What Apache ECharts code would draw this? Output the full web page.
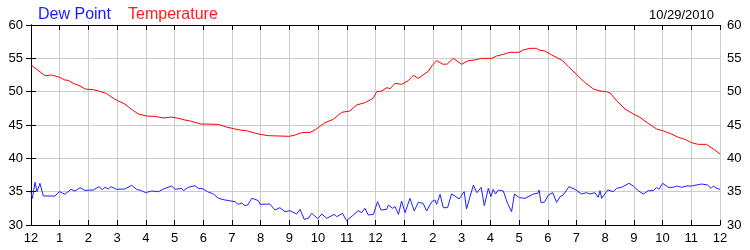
<!DOCTYPE html>
<html>
<head>
<meta charset="utf-8">
<script src="https://cdn.jsdelivr.net/npm/echarts@6/dist/echarts.min.js"></script>
<style>html,body{margin:0;padding:0;background:#fff}#c{width:750px;height:250px}</style>
</head>
<body>
<div id="c"></div>
<script>
// Hours since midnight (0..24) and values
var tempHours = [0.00,0.49,0.72,1.00,1.18,1.29,1.47,1.71,1.88,2.17,2.40,2.64,2.87,3.04,3.27,3.50,3.74,4.03,4.32,4.60,4.90,5.19,5.36,5.60,5.90,6.52,6.76,7.00,7.28,7.51,7.74,7.97,8.27,9.00,9.20,9.43,9.72,9.89,10.24,10.53,10.82,11.11,11.34,11.63,11.92,12.04,12.22,12.39,12.51,12.68,12.91,13.14,13.32,13.49,13.84,13.96,14.13,14.36,14.50,14.71,15.00,15.23,15.46,15.70,16.05,16.22,16.45,16.68,17.00,17.14,17.38,17.61,17.73,17.90,18.14,18.31,18.51,18.72,19.01,19.30,19.59,19.82,20.05,20.17,20.40,20.69,20.98,21.21,21.50,21.79,22.00,22.26,22.55,22.78,23.01,23.24,23.53,23.82,24.00];
var tempValues = [54.0,52.4,52.5,52.15,51.75,51.7,51.25,50.85,50.4,50.3,50.05,49.7,49.0,48.6,48.15,47.35,46.65,46.35,46.3,46.05,46.2,45.95,45.75,45.55,45.15,45.1,44.75,44.5,44.25,44.15,43.85,43.6,43.4,43.3,43.5,43.85,43.9,44.25,45.35,45.85,46.9,47.1,48.0,48.35,49.0,50.0,50.1,50.6,50.45,51.25,51.1,51.65,52.45,52.0,53.05,53.85,54.65,54.1,54.15,55.0,54.1,54.65,54.75,55.0,55.0,55.35,55.6,55.9,55.9,56.25,56.5,56.5,56.2,56.1,55.5,55.15,54.65,53.75,52.55,51.35,50.4,50.1,50.0,49.8,48.65,47.4,46.65,46.15,45.25,44.4,44.15,43.75,43.15,42.85,42.35,42.1,42.1,41.25,40.65];

var dewHours = [0.00,0.05,0.14,0.21,0.31,0.43,0.84,0.99,1.18,1.39,1.53,1.71,1.88,2.17,2.37,2.48,2.58,2.69,2.79,2.98,3.27,3.51,3.68,3.85,3.99,4.20,4.44,4.61,4.90,5.02,5.25,5.31,5.48,5.71,5.83,5.98,6.15,6.35,6.53,6.76,7.11,7.22,7.34,7.45,7.55,7.69,7.80,7.92,7.98,8.03,8.32,8.50,8.67,8.85,9.02,9.25,9.37,9.52,9.66,9.78,9.99,10.13,10.30,10.57,10.65,10.85,10.99,11.23,11.40,11.52,11.63,11.75,11.93,12.07,12.19,12.39,12.45,12.59,12.68,12.80,12.91,13.03,13.20,13.35,13.49,13.66,13.78,13.96,14.07,14.13,14.25,14.36,14.51,14.65,14.77,14.91,15.09,15.17,15.41,15.53,15.68,15.79,15.93,16.02,16.10,16.18,16.28,16.45,16.60,16.74,16.84,17.01,17.21,17.50,17.65,17.70,17.76,17.88,18.02,18.17,18.31,18.43,18.54,18.74,18.95,19.18,19.35,19.47,19.64,19.76,19.82,19.88,20.09,20.28,20.40,20.57,20.83,20.98,21.15,21.33,21.50,21.68,21.79,21.87,22.00,22.20,22.37,22.49,22.66,22.82,23.01,23.36,23.57,23.69,23.77,23.89,24.00];
var dewValues = [34.9,34.0,36.4,35.0,36.25,34.35,34.35,35.0,34.6,35.35,35.1,35.6,35.2,35.25,35.75,35.3,35.65,35.4,35.75,35.35,35.4,35.95,35.35,35.15,34.85,35.1,35.0,35.4,35.85,35.35,35.5,35.15,35.65,35.9,35.5,35.45,35.0,34.65,34.0,33.75,33.5,33.1,33.3,32.9,33.0,34.0,33.85,33.65,33.1,33.25,33.15,32.25,32.6,32.0,32.15,31.65,32.35,30.85,31.0,31.75,30.95,31.65,31.0,31.6,31.25,31.75,30.65,31.5,32.15,31.85,32.5,31.5,31.6,33.5,32.25,32.35,33.0,32.5,32.75,31.6,33.6,31.85,34.0,32.1,33.4,33.25,32.1,33.5,33.75,33.1,34.6,32.6,32.6,34.65,34.35,33.9,35.0,32.4,36.0,34.85,35.65,32.9,35.5,34.25,35.35,34.65,35.25,35.1,33.25,32.0,34.65,34.1,34.0,34.65,34.75,35.25,33.4,33.4,34.5,34.85,33.4,34.25,34.5,35.75,35.35,34.65,34.85,34.65,34.85,34.15,35.15,34.0,35.25,35.0,35.5,35.65,36.25,35.85,35.15,34.65,35.15,35.15,35.65,35.35,36.25,35.65,35.65,35.85,35.65,35.85,35.85,36.15,36.0,35.5,35.85,35.5,35.35];

var hourLabels = ['12','1','2','3','4','5','6','7','8','9','10','11','12','1','2','3','4','5','6','7','8','9','10','11','12'];
var yTicks = [30,35,40,45,50,55,60];
var titles = ['Dew Point','Temperature'];
var dateLabel = '10/29/2010';

function zip(a,b){var r=[];for(var i=0;i<a.length;i++)r.push([a[i],b[i]]);return r;}

var FONT = '"Liberation Sans", Arial, sans-serif';
var chart = echarts.init(document.getElementById('c'), null, {renderer:'canvas'});
var axisLine = {show:true, lineStyle:{color:'#000', width:1}};
var grid = {left:31, right:30, top:25, bottom:25, containLabel:false};
chart.setOption({
  animation:false,
  backgroundColor:'#fff',
  title:[
    {text:titles[0], left:33, top:2, textStyle:{color:'#1a1aff', fontSize:16, fontWeight:'normal', fontFamily:FONT}},
    {text:titles[1], left:123, top:2, textStyle:{color:'#ff1a1a', fontSize:16, fontWeight:'normal', fontFamily:FONT}},
    {text:dateLabel, right:31, top:4, textStyle:{color:'#000', fontSize:13, fontWeight:'normal', fontFamily:FONT}}
  ],
  grid:grid,
  xAxis:[
    {type:'value', min:0, max:24, interval:1, position:'bottom',
     axisLine:axisLine, axisTick:{show:true, inside:true, length:5, lineStyle:{color:'#000'}},
     axisLabel:{margin:7, color:'#000', fontSize:13, fontFamily:FONT, formatter:function(v){return hourLabels[Math.round(v)];}},
     splitLine:{show:true, lineStyle:{color:'#cccccc', width:1}}},
    {type:'value', min:0, max:24, interval:1, position:'top',
     axisLine:axisLine, axisTick:{show:true, inside:true, length:5, lineStyle:{color:'#000'}},
     axisLabel:{show:false}, splitLine:{show:false}}
  ],
  yAxis:[
    {type:'value', min:yTicks[0], max:yTicks[yTicks.length-1], interval:5, position:'left',
     axisLine:axisLine, axisTick:{show:true, inside:true, length:5, lineStyle:{color:'#000'}},
     axisLabel:{margin:8, color:'#000', fontSize:13, fontFamily:FONT},
     splitLine:{show:true, lineStyle:{color:'#cccccc', width:1}}},
    {type:'value', min:yTicks[0], max:yTicks[yTicks.length-1], interval:5, position:'right',
     axisLine:axisLine, axisTick:{show:true, inside:true, length:5, lineStyle:{color:'#000'}},
     axisLabel:{margin:7, color:'#000', fontSize:13, fontFamily:FONT},
     splitLine:{show:false}}
  ],
  series:[
    {name:'Temperature', type:'line', data:zip(tempHours,tempValues), showSymbol:false, symbol:'none',
     lineStyle:{color:'#ff0000', width:1}, xAxisIndex:0, yAxisIndex:0, z:3},
    {name:'Dew Point', type:'line', data:zip(dewHours,dewValues), showSymbol:false, symbol:'none',
     lineStyle:{color:'#1f1fff', width:1}, xAxisIndex:0, yAxisIndex:0, z:3}
  ]
});
</script>
</body>
</html>
